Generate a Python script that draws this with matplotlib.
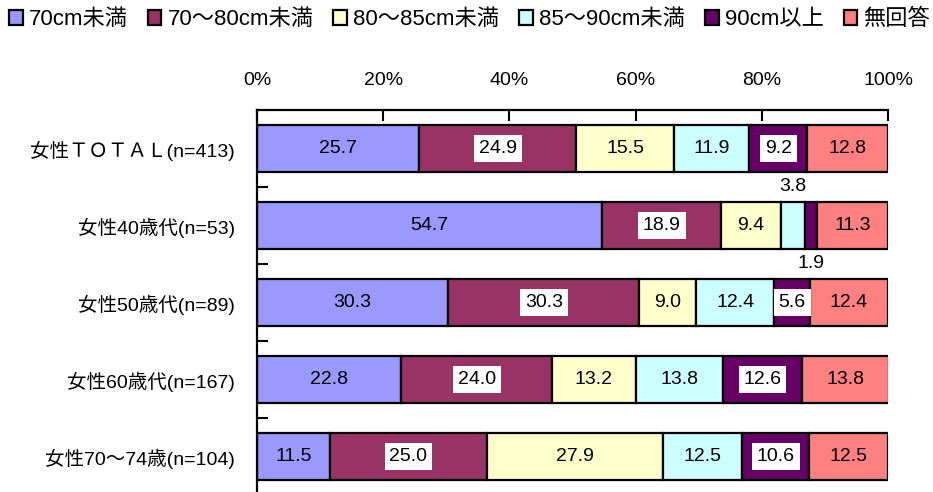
import matplotlib.pyplot as plt
import numpy as np

plt.rcParams['font.family'] = ['Liberation Sans', 'Noto Sans CJK JP']

groups = ['女性ＴＯＴＡＬ(n=413)', '女性40歳代(n=53)', '女性50歳代(n=89)',
          '女性60歳代(n=167)', '女性70～74歳(n=104)']
series = ['70cm未満', '70～80cm未満', '80～85cm未満', '85～90cm未満', '90cm以上', '無回答']
colors = ['#9999FF', '#993366', '#FFFFCC', '#CCFFFF', '#660066', '#FF8080']

under70 = [25.7, 54.7, 30.3, 22.8, 11.5]
r70_80 = [24.9, 18.9, 30.3, 24.0, 25.0]
r80_85 = [15.5, 9.4, 9.0, 13.2, 27.9]
r85_90 = [11.9, 3.8, 12.4, 13.8, 12.5]
over90 = [9.2, 1.9, 5.6, 12.6, 10.6]
no_answer = [12.8, 11.3, 12.4, 13.8, 12.5]

values = [under70, r70_80, r80_85, r85_90, over90, no_answer]

fig = plt.figure(figsize=(9.33, 4.92), dpi=100)
ax = fig.add_axes([0.2755, -0.006, 0.6763, 0.7824])

y = np.arange(len(groups))
left = np.zeros(len(groups))
for name, vals, c in zip(series, values, colors):
    vals = np.array(vals)
    ax.barh(y, vals, left=left, height=0.6, color=c, edgecolor='black',
            linewidth=1.6, label=name)
    for i, v in enumerate(vals):
        cx = left[i] + v / 2
        if v < 5:
            # too thin to hold the number, put it above/below the bar
            dy = -0.5 if c == '#CCFFFF' else 0.5
            ax.text(cx, y[i] + dy, f'{v:.1f}', ha='center', va='center', fontsize=14)
        elif c in ('#993366', '#660066'):
            ax.text(cx, y[i], f'{v:.1f}', ha='center', va='center', fontsize=14,
                    bbox=dict(facecolor='white', edgecolor='none', pad=3.5))
        else:
            ax.text(cx, y[i], f'{v:.1f}', ha='center', va='center', fontsize=14)
    left += vals

ax.set_xlim(0, 100)
ax.set_ylim(4.5, -0.5)
ax.set_xticks(np.arange(0, 101, 20))
ax.set_xticklabels([f'{t}%' for t in range(0, 101, 20)])
ax.xaxis.tick_top()
ax.tick_params(axis='x', direction='in', length=8, width=1.5, pad=15, labelsize=14)

ax.set_yticks(y)
ax.set_yticklabels(groups)
ax.set_yticks(np.arange(0.5, 4.5, 1), minor=True)
ax.tick_params(axis='y', which='major', length=0, pad=16, labelsize=14)
ax.tick_params(axis='y', which='minor', direction='in', length=8, width=1.5)

for s in ['right', 'bottom']:
    ax.spines[s].set_visible(False)
for s in ['top', 'left']:
    ax.spines[s].set_linewidth(1.6)

fig.legend(loc='upper left', bbox_to_anchor=(0.0, 1.0), ncol=6, frameon=False,
           fontsize=16, handlelength=0.62, handleheight=0.62, handletextpad=0.27,
           columnspacing=0.9, borderaxespad=0.1, borderpad=0.3)

fig.savefig('out.png', dpi=100)
